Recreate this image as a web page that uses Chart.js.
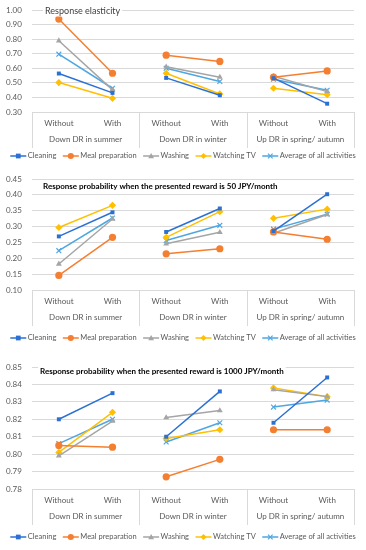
<!DOCTYPE html>
<html>
<head>
<meta charset="utf-8">
<script src="https://cdn.jsdelivr.net/npm/chart.js@4"></script>
<style>
  body { margin: 0; background: #fff; }
  .box { position: absolute; left: 0; width: 366px; }
</style>
</head>
<body>
<div class="box" style="top:0;height:165px"><canvas id="c1"></canvas></div>
<div class="box" style="top:170px;height:178px"><canvas id="c2"></canvas></div>
<div class="box" style="top:358px;height:192px"><canvas id="c3"></canvas></div>
<script>
const categories = ['Without', 'With', 'Without', 'With', 'Without', 'With'];
const groups = ['Down DR in summer', 'Down DR in winter', 'Up DR in spring/ autumn'];
const seriesNames = ['Cleaning', 'Meal preparation', 'Washing', 'Watching TV', 'Average of all activities'];

// response elasticity
const elasTicks = [0.30, 0.40, 0.50, 0.60, 0.70, 0.80, 0.90, 1.00];
const elasCleaning = [0.564, 0.431, 0.534, 0.415, 0.532, 0.357];
const elasMeal = [0.938, 0.566, 0.690, 0.647, 0.539, 0.582];
const elasWashing = [0.789, 0.452, 0.610, 0.539, 0.545, 0.440];
const elasTV = [0.502, 0.394, 0.566, 0.424, 0.463, 0.419];
const elasAverage = [0.697, 0.463, 0.600, 0.509, 0.525, 0.449];

// response probability, 50 JPY/month
const p50Ticks = [0.10, 0.15, 0.20, 0.25, 0.30, 0.35, 0.40, 0.45];
const p50Cleaning = [0.269, 0.345, 0.283, 0.357, 0.286, 0.402];
const p50Meal = [0.146, 0.266, 0.214, 0.230, 0.283, 0.260];
const p50Washing = [0.182, 0.324, 0.246, 0.282, 0.279, 0.338];
const p50TV = [0.297, 0.367, 0.266, 0.347, 0.326, 0.355];
const p50Average = [0.224, 0.327, 0.256, 0.304, 0.292, 0.339];

// response probability, 1000 JPY/month
const p1000Ticks = [0.78, 0.79, 0.80, 0.81, 0.82, 0.83, 0.84, 0.85];
const p1000Cleaning = [0.820, 0.835, 0.810, 0.836, 0.818, 0.844];
const p1000Meal = [0.805, 0.804, 0.787, 0.797, 0.814, 0.814];
const p1000Washing = [0.799, 0.819, 0.821, 0.825, 0.837, 0.833];
const p1000TV = [0.801, 0.824, 0.809, 0.814, 0.838, 0.833];
const p1000Average = [0.806, 0.820, 0.807, 0.818, 0.827, 0.831];

const colors = ['#2b70d3', '#f47f30', '#a5a5a5', '#ffc000', '#4ea6e2'];
const markers = ['rect', 'circle', 'triangle', 'rectRot', 'crossRot'];
const markerSizes = [2.8, 3.6, 3.4, 3.6, 3.4];
const textColor = '#595959';
const gridColor = '#d9d9d9';
const fontFamily = 'Lato, "Open Sans", sans-serif';
const fontSize = 8;
const legendFontSize = 7.5;

function drawMarker(ctx, style, x, y, r, color) {
  ctx.fillStyle = color;
  ctx.strokeStyle = color;
  ctx.lineWidth = 1.2;
  ctx.beginPath();
  if (style === 'rect') {
    ctx.rect(x - r, y - r, r * 2, r * 2);
    ctx.fill();
  } else if (style === 'circle') {
    ctx.arc(x, y, r, 0, Math.PI * 2);
    ctx.fill();
  } else if (style === 'triangle') {
    ctx.moveTo(x, y - r);
    ctx.lineTo(x + r, y + r * 0.8);
    ctx.lineTo(x - r, y + r * 0.8);
    ctx.closePath();
    ctx.fill();
  } else if (style === 'rectRot') {
    ctx.moveTo(x, y - r);
    ctx.lineTo(x + r, y);
    ctx.lineTo(x, y + r);
    ctx.lineTo(x - r, y);
    ctx.closePath();
    ctx.fill();
  } else {
    ctx.moveTo(x - r * 0.8, y - r * 0.8);
    ctx.lineTo(x + r * 0.8, y + r * 0.8);
    ctx.moveTo(x + r * 0.8, y - r * 0.8);
    ctx.lineTo(x - r * 0.8, y + r * 0.8);
    ctx.stroke();
  }
}

// Excel style legend: short line with the marker on it, then the name
const lineLegend = {
  id: 'lineLegend',
  afterDraw(chart, args, opts) {
    const ctx = chart.ctx;
    const y = chart.scales.x2.bottom + opts.gap;
    ctx.save();
    ctx.font = legendFontSize + 'px ' + fontFamily;
    const items = chart.data.datasets.map(d => ({ d: d, w: ctx.measureText(d.label).width }));
    const lineW = 16, textGap = 1.5, itemGap = 6.5;
    let total = 0;
    items.forEach((it, i) => { total += lineW + textGap + it.w + (i ? itemGap : 0); });
    let x = (chart.width - total) / 2;
    items.forEach(it => {
      const c = it.d.borderColor;
      ctx.strokeStyle = c;
      ctx.lineWidth = 1.5;
      ctx.beginPath();
      ctx.moveTo(x, y);
      ctx.lineTo(x + lineW, y);
      ctx.stroke();
      drawMarker(ctx, it.d.pointStyle, x + lineW / 2, y, it.d.pointRadius * 0.85, c);
      ctx.fillStyle = textColor;
      ctx.textBaseline = 'middle';
      ctx.fillText(it.d.label, x + lineW + textGap, y);
      x += lineW + textGap + it.w + itemGap;
    });
    ctx.restore();
  }
};

const groupSeparators = {
  id: 'groupSeparators',
  afterDraw(chart) {
    const x = chart.scales.x;
    const x2 = chart.scales.x2;
    const ctx = chart.ctx;
    const half = (x.getPixelForValue(1) - x.getPixelForValue(0)) / 2;
    ctx.save();
    ctx.strokeStyle = gridColor;
    ctx.lineWidth = 1;
    for (let i = -1; i < categories.length; i += 2) {
      const px = Math.round(x.getPixelForValue(i) + half) + 0.5;
      ctx.beginPath();
      ctx.moveTo(px, chart.chartArea.bottom);
      ctx.lineTo(px, x2.bottom - 2);
      ctx.stroke();
    }
    ctx.restore();
  }
};

const innerTitle = {
  id: 'innerTitle',
  afterDraw(chart, args, opts) {
    const ctx = chart.ctx;
    ctx.save();
    ctx.font = (opts.bold ? 'bold ' : '') + opts.size + 'px ' + fontFamily;
    const w = ctx.measureText(opts.text).width;
    ctx.fillStyle = '#fff';
    ctx.fillRect(opts.x - 2, opts.y - opts.size / 2 - 1, w + 4, opts.size + 2);
    ctx.fillStyle = opts.color;
    ctx.textBaseline = 'middle';
    ctx.fillText(opts.text, opts.x, opts.y);
    ctx.restore();
  }
};

function makeChart(id, data, ticks, title, padBottom, legendGap) {
  const datasets = data.map(function (vals, i) {
    return {
      label: seriesNames[i],
      data: vals,
      borderColor: colors[i],
      backgroundColor: colors[i],
      borderWidth: 1.5,
      pointStyle: markers[i],
      pointRadius: markerSizes[i],
      pointBorderWidth: markers[i] === 'crossRot' ? 1.2 : 0,
      segment: {
        borderColor: ctx => (ctx.p0DataIndex % 2 === 1 ? 'rgba(0,0,0,0)' : undefined)
      }
    };
  });
  return new Chart(document.getElementById(id), {
    type: 'line',
    data: { labels: categories, datasets: datasets },
    plugins: [groupSeparators, innerTitle, lineLegend],
    options: {
      responsive: true,
      maintainAspectRatio: false,
      animation: false,
      layout: { padding: { left: 6, right: 12, top: title.padTop, bottom: padBottom } },
      scales: {
        y: {
          min: ticks[0],
          max: ticks[ticks.length - 1],
          afterFit(s) { s.width = 26; },
          afterBuildTicks(s) { s.ticks = ticks.map(v => ({ value: v })); },
          ticks: {
            autoSkip: false,
            crossAlign: 'far',
            color: textColor,
            font: { family: fontFamily, size: fontSize },
            padding: 1,
            callback: v => v.toFixed(2)
          },
          grid: { color: gridColor, drawTicks: false },
          border: { display: false }
        },
        x: {
          offset: true,
          afterFit(s) { s.height = 20; },
          ticks: { color: textColor, font: { family: fontFamily, size: fontSize }, padding: 7, maxRotation: 0, autoSkip: false },
          grid: { display: false, drawTicks: false },
          border: { display: false }
        },
        x2: {
          type: 'category',
          position: 'bottom',
          offset: true,
          labels: groups,
          afterFit(s) { s.height = 18; },
          ticks: { color: textColor, font: { family: fontFamily, size: fontSize }, padding: 3, maxRotation: 0, autoSkip: false },
          grid: { display: false, drawTicks: false },
          border: { display: false }
        }
      },
      plugins: {
        legend: { display: false },
        tooltip: { enabled: false },
        innerTitle: title,
        lineLegend: { gap: legendGap }
      }
    }
  });
}

makeChart('c1', [elasCleaning, elasMeal, elasWashing, elasTV, elasAverage], elasTicks,
  { text: 'Response elasticity', bold: false, size: 9, x: 45, y: 11, color: '#404040', padTop: 10 }, 15, 6);
makeChart('c2', [p50Cleaning, p50Meal, p50Washing, p50TV, p50Average], p50Ticks,
  { text: 'Response probability when the presented reward is 50 JPY/month', bold: true, size: 8, x: 43, y: 16, color: '#000', padTop: 9 }, 20, 10);
makeChart('c3', [p1000Cleaning, p1000Meal, p1000Washing, p1000TV, p1000Average], p1000Ticks,
  { text: 'Response probability when the presented reward is 1000 JPY/month', bold: true, size: 8, x: 40, y: 13, color: '#000', padTop: 9 }, 23, 10);
</script>
</body>
</html>
